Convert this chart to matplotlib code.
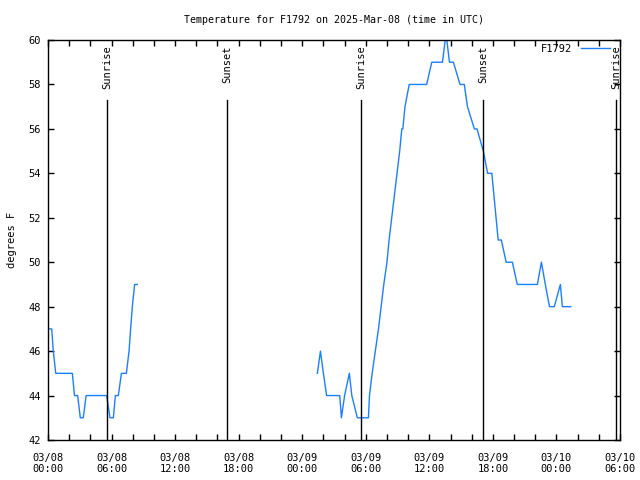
import numpy as np
import matplotlib
matplotlib.use("Agg")
import matplotlib.pyplot as plt
from matplotlib.ticker import MultipleLocator, FixedLocator

# hours since 03/08 00:00 UTC
seg1_hours = [0.0, 0.35, 0.5, 0.73, 2.3, 2.5, 2.8, 3.05, 3.33, 3.6, 5.54, 5.85, 6.17,
              6.36, 6.64, 6.93, 7.4, 7.65, 7.8, 7.96, 8.18, 8.43]
seg1_temps = [47, 47, 46, 45, 45, 44, 44, 43, 43, 44, 44, 43, 43,
              44, 44, 45, 45, 46, 47, 48, 49, 49]

seg2_hours = [25.43, 25.72, 26.0, 26.3, 27.54, 27.7, 28.0, 28.45, 28.68, 29.2,
              30.25, 30.35, 30.6, 30.9, 31.2, 31.45, 31.7, 32.0, 32.2, 32.45,
              32.7, 32.95, 33.2, 33.4, 33.5, 33.7, 34.1, 35.75, 36.23, 37.24,
              37.5, 37.65, 37.9, 38.27, 38.9, 39.3, 39.6, 40.25, 40.5, 41.1,
              41.5, 41.9, 42.1, 42.3, 42.5, 42.8, 43.25, 43.84, 44.3, 46.2,
              46.58, 46.95, 47.34, 47.8, 48.37, 48.56, 49.36]
seg2_temps = [45, 46, 45, 44, 44, 43, 44, 45, 44, 43,
              43, 44, 45, 46, 47, 48, 49, 50, 51, 52,
              53, 54, 55, 56, 56, 57, 58, 58, 59, 59,
              60, 60, 59, 59, 58, 58, 57, 56, 56, 55,
              54, 54, 53, 52, 51, 51, 50, 50, 49, 49,
              50, 49, 48, 48, 49, 48, 48]

sun_hours = [5.57, 16.9, 29.55, 41.07, 53.6]
sun_labels = ["Sunrise", "Sunset", "Sunrise", "Sunset", "Sunrise"]

xtick_hours = [0, 6, 12, 18, 24, 30, 36, 42, 48, 54]
xtick_labels = ["03/08\n00:00", "03/08\n06:00", "03/08\n12:00", "03/08\n18:00",
                "03/09\n00:00", "03/09\n06:00", "03/09\n12:00", "03/09\n18:00",
                "03/10\n00:00", "03/10\n06:00"]

plt.rcParams['font.family'] = ['DejaVu Sans Mono']
fs = 7.5

fig = plt.figure(figsize=(6.4, 4.8), dpi=100)
ax = fig.add_axes([48 / 640, 40 / 480, 572 / 640, 400 / 480])

hours = seg1_hours + [np.nan] + seg2_hours
temps = seg1_temps + [np.nan] + seg2_temps
ax.plot(hours, temps, color='#1a80ff', lw=1, label='F1792')

for h, lab in zip(sun_hours, sun_labels):
    ax.plot([h, h], [42, 57.3], color='black', lw=1)
    ax.text(h, 59.75, lab, rotation=90, ha='center', va='top', fontsize=fs)

ax.set_xlim(0, 54)
ax.set_ylim(42, 60)
ax.xaxis.set_major_locator(FixedLocator(xtick_hours))
ax.set_xticklabels(xtick_labels)
ax.xaxis.set_minor_locator(MultipleLocator(2))
ax.yaxis.set_major_locator(MultipleLocator(2))
ax.tick_params(which='both', direction='in', top=True, right=True, length=4,
               width=1, labelsize=fs)
ax.tick_params(axis='x', which='both', pad=9)
ax.tick_params(axis='y', which='both', pad=5)
for s in ax.spines.values():
    s.set_linewidth(1)

ax.set_ylabel('degrees F', fontsize=fs, labelpad=8)
ax.set_title('Temperature for F1792 on 2025-Mar-08 (time in UTC)', fontsize=7.2, pad=12)
ax.legend(loc='upper right', frameon=False, markerfirst=False, handlelength=2.8,
          handletextpad=0.8, fontsize=fs, borderpad=0, borderaxespad=0,
          bbox_to_anchor=(1 - 10 / 572, 1 - 4 / 400))

fig.savefig('out.png', dpi=100)
